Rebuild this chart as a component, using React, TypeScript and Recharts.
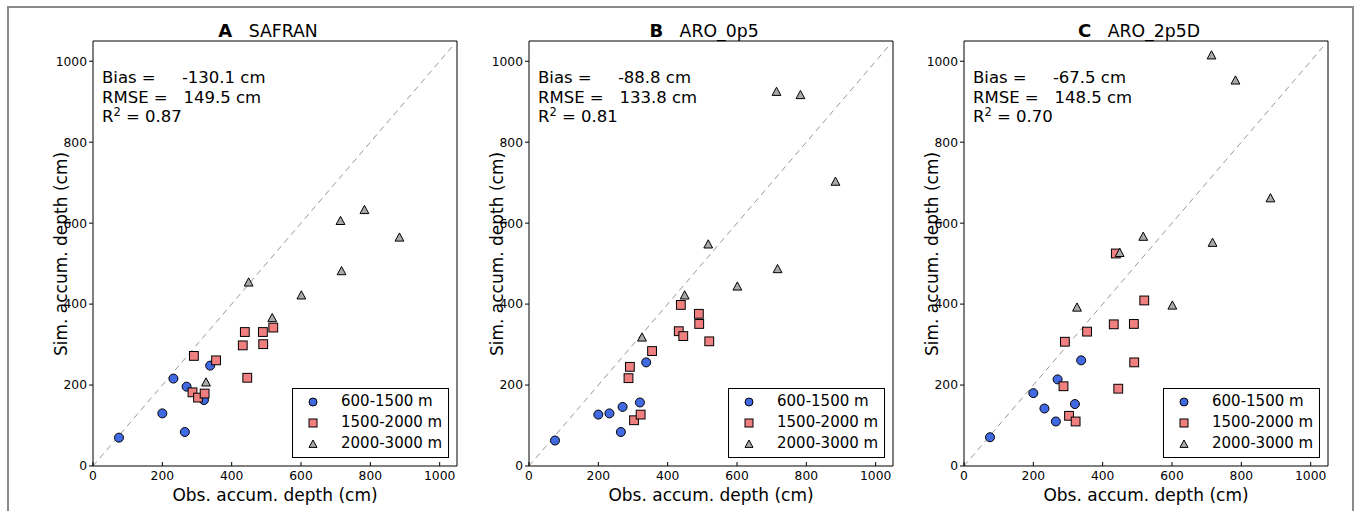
import React from 'react';
import { ScatterChart, Scatter, XAxis, YAxis, ReferenceLine, Legend } from 'recharts';

// ---- data ----
const AXIS_TICKS = [0, 200, 400, 600, 800, 1000];
const AXIS_DOMAIN = [0, 1050];
const DIAGONAL = [0, 1035];

const PANEL_LETTERS = ['A', 'B', 'C'];
const PANEL_NAMES = ['SAFRAN', 'ARO_0p5', 'ARO_2p5D'];
const BIAS_TEXT = ['-130.1', '-88.8', '-67.5'];
const RMSE_TEXT = ['149.5', '133.8', '148.5'];
const R2_TEXT = ['0.87', '0.81', '0.70'];

const LEGEND_LABELS = ['600-1500 m', '1500-2000 m', '2000-3000 m'];

// observed accumulated depth (cm), per elevation band
const OBS_LOW = [75, 200, 232, 265, 270, 320, 338];
const OBS_MID = [287, 291, 303, 322, 355, 432, 438, 445, 490, 491, 520];
const OBS_HIGH = [326, 449, 517, 601, 714, 717, 783, 884];

// simulated accumulated depth (cm)
const SIM_LOW_A = [70, 130, 216, 84, 196, 163, 248];
const SIM_MID_A = [182, 272, 169, 179, 261, 298, 331, 218, 331, 301, 342];
const SIM_HIGH_A = [207, 454, 366, 422, 606, 482, 633, 565];

const SIM_LOW_B = [63, 127, 130, 84, 146, 157, 256];
const SIM_MID_B = [217, 245, 113, 127, 284, 333, 398, 321, 376, 351, 308];
const SIM_HIGH_B = [318, 422, 548, 444, 925, 487, 917, 703];

const SIM_LOW_C = [71, 180, 142, 110, 214, 153, 261];
const SIM_MID_C = [197, 307, 124, 110, 332, 350, 525, 191, 351, 256, 409];
const SIM_HIGH_C = [392, 527, 567, 397, 1015, 552, 953, 662];

const SIM_LOW = [SIM_LOW_A, SIM_LOW_B, SIM_LOW_C];
const SIM_MID = [SIM_MID_A, SIM_MID_B, SIM_MID_C];
const SIM_HIGH = [SIM_HIGH_A, SIM_HIGH_B, SIM_HIGH_C];

// ---- styles ----
const BLUE = '#4169E1';
const RED = '#F08080';
const GRAY = '#A9A9A9';
const FONT = "'DejaVu Sans', 'Bitstream Vera Sans', sans-serif";

const toPoints = (xs: number[], ys: number[]) => xs.map((x, i) => ({ x, y: ys[i] }));

const CircleShape = (p: any) => (
  <circle cx={p.cx} cy={p.cy} r={4.5} fill={BLUE} stroke="#000" strokeWidth={1} />
);
const SquareShape = (p: any) => (
  <rect x={p.cx - 4.4} y={p.cy - 4.4} width={8.8} height={8.8} fill={RED} stroke="#000" strokeWidth={1} />
);
const TriangleShape = (p: any) => (
  <path
    d={`M${p.cx},${p.cy - 4.4} L${p.cx + 4.4},${p.cy + 3.8} L${p.cx - 4.4},${p.cy + 3.8} Z`}
    fill={GRAY}
    stroke="#000"
    strokeWidth={1}
  />
);

const LegendBox = () => {
  const markers = [
    <circle key="c" cx={7} cy={7} r={4} fill={BLUE} stroke="#000" strokeWidth={1} />,
    <rect key="s" x={3} y={3} width={8} height={8} fill={RED} stroke="#000" strokeWidth={1} />,
    <path key="t" d="M7,3 L11,10.4 L3,10.4 Z" fill={GRAY} stroke="#000" strokeWidth={1} />,
  ];
  return (
    <div
      style={{
        boxSizing: 'border-box',
        width: 157,
        height: 70,
        border: '1px solid #000',
        background: '#fff',
        paddingTop: 2,
        fontFamily: FONT,
        fontSize: 15,
        color: '#000',
      }}
    >
      {LEGEND_LABELS.map((lab, i) => (
        <div key={lab} style={{ display: 'flex', alignItems: 'center', height: 21.2 }}>
          <svg width={14} height={14} style={{ marginLeft: 13, display: 'block' }}>
            {markers[i]}
          </svg>
          <span style={{ marginLeft: 21, whiteSpace: 'pre', lineHeight: '21px' }}>{lab}</span>
        </div>
      ))}
    </div>
  );
};

const Panel = ({ idx, left }: { idx: number; left: number }) => {
  const low = toPoints(OBS_LOW, SIM_LOW[idx]);
  const mid = toPoints(OBS_MID, SIM_MID[idx]);
  const high = toPoints(OBS_HIGH, SIM_HIGH[idx]);
  return (
    <div style={{ position: 'absolute', left, top: 0, width: 460, height: 511 }}>
      <ScatterChart width={460} height={511} margin={{ top: 40, right: 2, bottom: 0, left: 43 }}>
        <XAxis
          xAxisId="b"
          dataKey="x"
          type="number"
          domain={AXIS_DOMAIN}
          ticks={AXIS_TICKS}
          allowDataOverflow
          height={45}
          tickSize={-4}
          tickMargin={9.5}
          axisLine={{ stroke: '#000', strokeWidth: 1 }}
          tickLine={{ stroke: '#000', strokeWidth: 1 }}
          tick={{ fontSize: 12.3, fill: '#000' }}
        />
        <XAxis
          xAxisId="t"
          orientation="top"
          type="number"
          domain={AXIS_DOMAIN}
          ticks={AXIS_TICKS}
          allowDataOverflow
          height={1}
          tickSize={-4}
          tick={false}
          axisLine={{ stroke: '#000', strokeWidth: 1 }}
          tickLine={{ stroke: '#000', strokeWidth: 1 }}
        />
        <YAxis
          yAxisId="l"
          dataKey="y"
          type="number"
          domain={AXIS_DOMAIN}
          ticks={AXIS_TICKS}
          allowDataOverflow
          width={50}
          tickSize={4}
          tickMargin={2}
          axisLine={{ stroke: '#000', strokeWidth: 1 }}
          tickLine={{ stroke: '#000', strokeWidth: 1 }}
          tick={{ fontSize: 12.3, fill: '#000' }}
        />
        <YAxis
          yAxisId="r"
          orientation="right"
          type="number"
          domain={AXIS_DOMAIN}
          ticks={AXIS_TICKS}
          allowDataOverflow
          width={1}
          tickSize={-4}
          tick={false}
          axisLine={{ stroke: '#000', strokeWidth: 1 }}
          tickLine={{ stroke: '#000', strokeWidth: 1 }}
        />
        <ReferenceLine
          xAxisId="b"
          yAxisId="l"
          segment={[
            { x: DIAGONAL[0], y: DIAGONAL[0] },
            { x: DIAGONAL[1], y: DIAGONAL[1] },
          ]}
          stroke="#999"
          strokeWidth={1}
          strokeDasharray="6 4.5"
        />
        <Scatter xAxisId="b" yAxisId="l" name={LEGEND_LABELS[0]} data={low} shape={CircleShape} isAnimationActive={false} />
        <Scatter xAxisId="b" yAxisId="l" name={LEGEND_LABELS[1]} data={mid} shape={SquareShape} isAnimationActive={false} />
        <Scatter xAxisId="b" yAxisId="l" name={LEGEND_LABELS[2]} data={high} shape={TriangleShape} isAnimationActive={false} />
        <Legend
          layout="vertical"
          align="center"
          verticalAlign="middle"
          wrapperStyle={{ left: 292, top: 388, width: 157, height: 70 }}
          content={() => <LegendBox />}
        />
      </ScatterChart>

      {/* title */}
      <div
        style={{
          position: 'absolute',
          left: 93,
          width: 364,
          top: 21.2,
          textAlign: 'center',
          fontSize: 17.3,
          lineHeight: '20px',
          whiteSpace: 'pre',
          color: '#000',
          paddingRight: 14,
          boxSizing: 'border-box',
        }}
      >
        <span style={{ fontWeight: 'bold', fontSize: 18 }}>{PANEL_LETTERS[idx]}</span>
        {'   ' + PANEL_NAMES[idx]}
      </div>

      {/* stats */}
      <div
        style={{
          position: 'absolute',
          left: 102,
          top: 68,
          fontSize: 16.5,
          lineHeight: '19.7px',
          whiteSpace: 'pre',
          color: '#000',
        }}
      >
        <div>{'Bias =     ' + BIAS_TEXT[idx] + ' cm'}</div>
        <div>{'RMSE =   ' + RMSE_TEXT[idx] + ' cm'}</div>
        <div>
          R<span style={{ fontSize: 11.5, position: 'relative', top: -6.5, lineHeight: 0 }}>2</span>
          {' = ' + R2_TEXT[idx]}
        </div>
      </div>

      {/* x label */}
      <div
        style={{
          position: 'absolute',
          left: 93,
          width: 364,
          top: 485.4,
          textAlign: 'center',
          fontSize: 17,
          lineHeight: '20px',
          whiteSpace: 'pre',
          color: '#000',
        }}
      >
        Obs. accum. depth (cm)
      </div>

      {/* y label */}
      <div
        style={{
          position: 'absolute',
          left: 61 - 150,
          top: 253.5 - 10,
          width: 300,
          height: 20,
          textAlign: 'center',
          fontSize: 17,
          lineHeight: '20px',
          whiteSpace: 'pre',
          color: '#000',
          transform: 'rotate(-90deg)',
          transformOrigin: '50% 50%',
        }}
      >
        Sim. accum. depth (cm)
      </div>
    </div>
  );
};

export default function App() {
  return (
    <div
      style={{
        position: 'absolute',
        left: 0,
        top: 0,
        width: 1360,
        height: 511,
        overflow: 'hidden',
        background: '#fff',
        fontFamily: FONT,
      }}
    >
      <div
        style={{
          position: 'absolute',
          left: 7,
          top: 6,
          width: 1347,
          height: 600,
          boxSizing: 'border-box',
          border: '2px solid #8a8a8a',
        }}
      />
      {[0, 436, 871].map((left, i) => (
        <Panel key={i} idx={i} left={left} />
      ))}
    </div>
  );
}
